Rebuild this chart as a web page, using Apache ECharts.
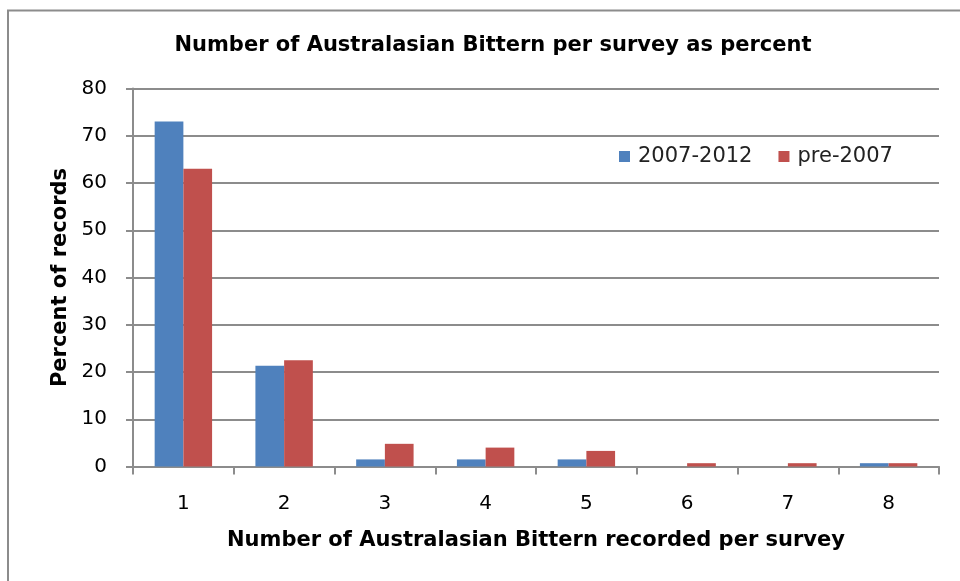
<!DOCTYPE html>
<html>
<head>
<meta charset="utf-8">
<script src="https://cdn.jsdelivr.net/npm/echarts@6/dist/echarts.min.js"></script>
<style>
  html, body { margin: 0; padding: 0; background: #fff; }
  #chart { width: 960px; height: 581px; }
</style>
</head>
<body>
<div id="chart"></div>
<script>
// Birds counted per survey
const categories = ['1', '2', '3', '4', '5', '6', '7', '8'];
// Share of records (%) for each period
const recent = [73, 21.3, 1.5, 1.5, 1.5, 0, 0, 0.7];
const pre2007 = [63, 22.5, 4.8, 4.0, 3.3, 0.7, 0.7, 0.7];
const seriesNames = ['2007-2012', 'pre-2007'];
const yTicks = { min: 0, max: 80, interval: 10 };

const gridColor = '#8c8c8c';
const font = 'DejaVu Sans, Verdana, sans-serif';

const chart = echarts.init(document.getElementById('chart'), null, { renderer: 'canvas' });

chart.setOption({
  animation: false,
  backgroundColor: '#ffffff',
  title: {
    text: 'Number of Australasian Bittern per survey as percent',
    left: 488,
    textAlign: 'center',
    top: 30,
    textStyle: { fontFamily: font, fontWeight: 'bold', fontSize: 21, color: '#000' }
  },
  legend: {
    data: seriesNames,
    left: 614,
    top: 141,
    icon: 'rect',
    itemWidth: 11,
    itemHeight: 11,
    itemGap: 26,
    textStyle: { fontFamily: font, fontSize: 21, color: '#222', padding: [0, 0, 0, 3] }
  },
  grid: { left: 133, right: 21, top: 88.5, bottom: 114.5, containLabel: false },
  xAxis: {
    type: 'category',
    data: categories,
    name: 'Number of Australasian Bittern recorded per survey',
    nameLocation: 'middle',
    nameGap: 64,
    nameTextStyle: { fontFamily: font, fontWeight: 'bold', fontSize: 21, color: '#000' },
    axisLine: { lineStyle: { color: gridColor, width: 2 } },
    axisTick: { show: true, length: 8, alignWithLabel: false, lineStyle: { color: gridColor, width: 2 } },
    axisLabel: { fontFamily: font, fontSize: 20, color: '#000', margin: 27 }
  },
  yAxis: {
    type: 'value',
    min: yTicks.min,
    max: yTicks.max,
    interval: yTicks.interval,
    name: 'Percent of records',
    nameLocation: 'middle',
    nameGap: 60,
    nameRotate: 90,
    nameTextStyle: { fontFamily: font, fontWeight: 'bold', fontSize: 21, color: '#000' },
    axisLine: { show: true, lineStyle: { color: gridColor, width: 2 } },
    axisTick: { show: true, length: 7, lineStyle: { color: gridColor, width: 2 } },
    splitLine: { show: true, lineStyle: { color: gridColor, width: 2 } },
    axisLabel: { fontFamily: font, fontSize: 20, color: '#000', margin: 26 }
  },
  series: [
    {
      name: seriesNames[0],
      type: 'bar',
      data: recent,
      barGap: '0%',
      barCategoryGap: '43%',
      itemStyle: { color: '#4f81bd' }
    },
    {
      name: seriesNames[1],
      type: 'bar',
      data: pre2007,
      barGap: '0%',
      barCategoryGap: '43%',
      itemStyle: { color: '#c0504d' }
    }
  ],
  graphic: [
    {
      type: 'polyline',
      shape: { points: [[8, 581], [8, 10.5], [960, 10.5]] },
      style: { stroke: '#8c8c8c', lineWidth: 2, fill: null }
    }
  ]
});
</script>
</body>
</html>
